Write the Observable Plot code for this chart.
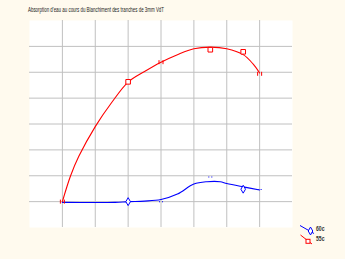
<!DOCTYPE html>
<html>
<head>
<meta charset="utf-8">
<script src="https://cdn.jsdelivr.net/npm/d3@7"></script>
<script src="https://cdn.jsdelivr.net/npm/@observablehq/plot@0.6"></script>
<style>
  html, body { margin: 0; padding: 0; background: #fffaee; }
  #chart svg { display: block; }
</style>
</head>
<body>
<div id="chart"></div>
<script>
// ---- data (grid units, no axis labels in the original) ----
const titleText = "Absorption d'eau au cours du Blanchiment des tranches de 3mm VdT";
const seriesNames = ["60c", "55c"];
const gridTicks = [0, 1, 2, 3, 4, 5, 6];

// measured points
const pointX = [0, 2, 3, 4.5, 5.5, 6];
const red55Y = [0, 4.63, 5.39, 5.87, 5.79, 4.94];
const blue60Y = [0, 0, 0, 0.95, 0.48, 0.47];

// smoothed curves as traced on the picture
const redCurveX = [0, 0.25, 0.5, 1, 1.5, 2, 2.5, 3, 3.5, 4, 4.5, 5, 5.5, 5.8, 6];
const redCurveY = [0, 1.0, 1.75, 2.9, 3.83, 4.62, 5.03, 5.39, 5.68, 5.91, 5.97, 5.91, 5.68, 5.32, 4.97];
const blueCurveX = [0, 1.6, 2, 2.5, 3, 3.5, 4, 4.4, 4.8, 5, 5.5, 6];
const blueCurveY = [-0.03, -0.03, 0, 0.02, 0.08, 0.29, 0.68, 0.77, 0.77, 0.7, 0.57, 0.45];

// ---- build tables ----
const redPts = pointX.map((x, i) => ({x, y: red55Y[i], i}));
const bluePts = pointX.map((x, i) => ({x, y: blue60Y[i], i}));
const redCurve = redCurveX.map((x, i) => ({x, y: redCurveY[i]}));
const blueCurve = blueCurveX.map((x, i) => ({x, y: blueCurveY[i]}));

const fullRed = new Set([1, 3, 4]);
const fullBlue = new Set([1, 4]);

// partially drawn markers of the original rendering
const barsSymbol = {
  draw(ctx) {
    ctx.moveTo(-2, -2); ctx.lineTo(-2, 2);
    ctx.moveTo(2, -2); ctx.lineTo(2, 2);
  }
};
const dotsSymbol = {
  draw(ctx) {
    ctx.rect(-2, -0.5, 1, 1);
    ctx.rect(1, -0.5, 1, 1);
  }
};

const RED = "#ff0000", BLUE = "#0000ff", GRID = "#c0c0c0";
const FONT = "'Liberation Sans Narrow', 'Liberation Sans', Arial, sans-serif";

const chart = Plot.plot({
  width: 345,
  height: 259,
  marginLeft: 29,
  marginRight: 53,
  marginTop: 20,
  marginBottom: 32,
  style: {background: "#fffaee", overflow: "visible"},
  x: {domain: [-1, 7], axis: null},
  y: {domain: [-1, 7], axis: null},
  marks: [
    Plot.frame({fill: "white", stroke: "none"}),
    Plot.gridX(gridTicks, {stroke: GRID, strokeOpacity: 1, strokeWidth: 1}),
    Plot.gridY(gridTicks, {stroke: GRID, strokeOpacity: 1, strokeWidth: 1}),
    Plot.line(blueCurve, {x: "x", y: "y", stroke: BLUE, strokeWidth: 1.1, curve: "catmull-rom"}),
    Plot.line(redCurve, {x: "x", y: "y", stroke: RED, strokeWidth: 1.1, curve: "catmull-rom"}),
    Plot.dot(bluePts.filter(d => fullBlue.has(d.i)), {x: "x", y: "y", symbol: "diamond", r: 2.4, stroke: BLUE, fill: "white", strokeWidth: 1}),
    Plot.dot(bluePts.filter(d => !fullBlue.has(d.i) && d.i > 0), {x: "x", y: "y", symbol: dotsSymbol, r: 3, fill: BLUE, stroke: "none"}),
    Plot.dot(redPts.filter(d => fullRed.has(d.i)), {x: "x", y: "y", symbol: "square", r: 2.6, stroke: RED, fill: "white", strokeWidth: 1}),
    Plot.dot(redPts.filter(d => !fullRed.has(d.i)), {x: "x", y: "y", symbol: barsSymbol, r: 3, stroke: RED, fill: "none", strokeWidth: 1})
  ]
});

const svg = d3.select(chart);
// title
svg.append("text")
  .attr("x", 28).attr("y", 12)
  .attr("text-anchor", "start")
  .attr("font-family", FONT)
  .attr("font-size", 8)
  .attr("fill", "#1a1a1a")
  .attr("textLength", 136)
  .attr("lengthAdjust", "spacingAndGlyphs")
  .text(titleText);

// legend (bottom right)
const lg = svg.append("g");
lg.append("line").attr("x1", 300).attr("y1", 225.5).attr("x2", 314).attr("y2", 233.5)
  .attr("stroke", BLUE).attr("stroke-width", 1);
lg.append("path").attr("d", d3.symbol(d3.symbolDiamond, 18)()).attr("transform", "translate(310.5,231)")
  .attr("stroke", BLUE).attr("fill", "white").attr("stroke-width", 1);
lg.append("line").attr("x1", 300.5).attr("y1", 235).attr("x2", 312).attr("y2", 244)
  .attr("stroke", RED).attr("stroke-width", 1);
lg.append("rect").attr("x", 306).attr("y", 239.3).attr("width", 4).attr("height", 4)
  .attr("stroke", RED).attr("fill", "white").attr("stroke-width", 1);
[[seriesNames[0], 230.5], [seriesNames[1], 240.7]].forEach(([t, y]) => {
  lg.append("text").attr("x", 316).attr("y", y)
    .attr("text-anchor", "start")
    .attr("font-family", FONT)
    .attr("font-size", 6.5).attr("font-weight", "bold").attr("fill", "#333")
    .attr("textLength", 8.5).attr("lengthAdjust", "spacingAndGlyphs")
    .text(t);
});

document.getElementById("chart").appendChild(chart);
</script>
</body>
</html>
